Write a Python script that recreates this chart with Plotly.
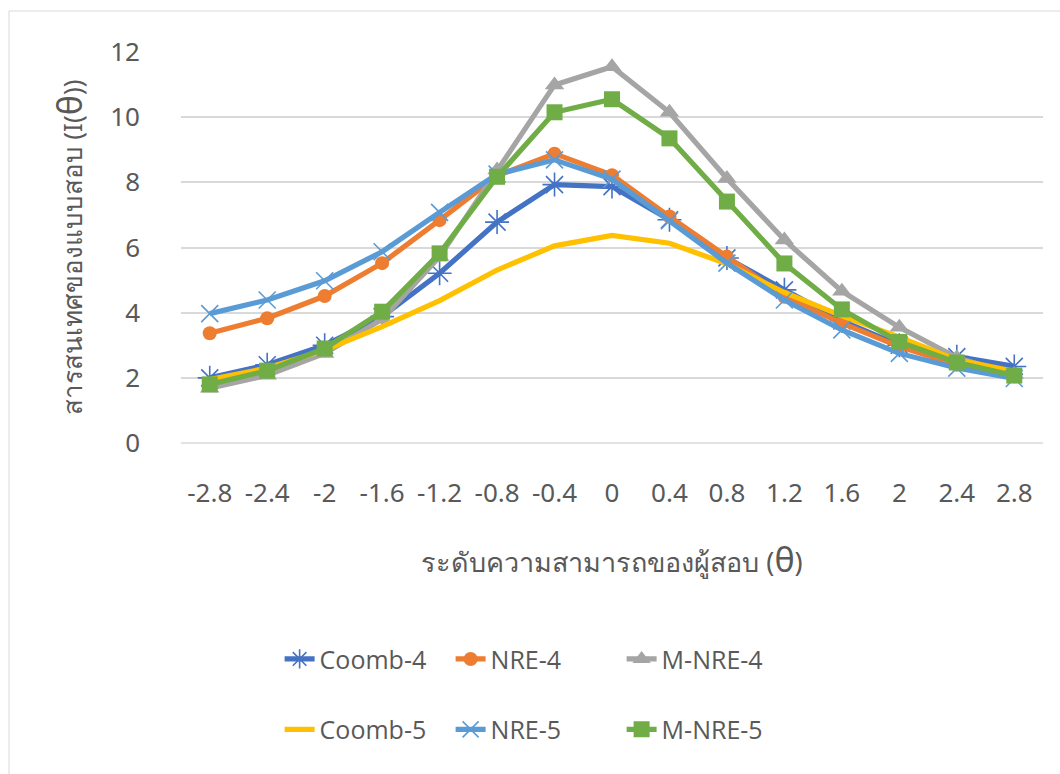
import plotly.graph_objects as go

# Test information functions by ability level
theta = ["-2.8", "-2.4", "-2", "-1.6", "-1.2", "-0.8", "-0.4", "0",
         "0.4", "0.8", "1.2", "1.6", "2", "2.4", "2.8"]

coomb_4 = [2.0, 2.4, 3.0, 3.88, 5.21, 6.78, 7.93, 7.87, 6.85, 5.68, 4.7, 3.75, 3.0, 2.65, 2.35]
nre_4 = [3.37, 3.83, 4.51, 5.52, 6.84, 8.2, 8.88, 8.22, 6.95, 5.72, 4.49, 3.68, 2.96, 2.4, 2.05]
m_nre_4 = [1.68, 2.08, 2.75, 3.8, 5.72, 8.38, 10.99, 11.55, 10.15, 8.12, 6.23, 4.66, 3.55, 2.62, 2.1]
coomb_5 = [1.95, 2.3, 2.85, 3.57, 4.37, 5.31, 6.05, 6.37, 6.13, 5.5, 4.62, 3.9, 3.25, 2.55, 2.2]
nre_5 = [3.97, 4.39, 4.98, 5.87, 7.08, 8.25, 8.69, 8.1, 6.82, 5.52, 4.39, 3.47, 2.75, 2.3, 1.98]
m_nre_5 = [1.8, 2.22, 2.9, 4.03, 5.82, 8.17, 10.15, 10.55, 9.35, 7.41, 5.51, 4.1, 3.1, 2.47, 2.07]

y_ticks = [0, 2, 4, 6, 8, 10, 12]

TEXT = "#595959"
GRID = "#d9d9d9"
FONT = "Liberation Sans Narrow, Noto Sans, sans-serif"
LEG_FONT = "Open Sans, Noto Sans, sans-serif"

series = [
    ("Coomb-4", coomb_4, "#4472C4", dict(symbol="asterisk-open", size=20,
                                         line=dict(width=1.6, color="#4472C4")), "legend"),
    ("NRE-4", nre_4, "#ED7D31", dict(symbol="circle", size=14), "legend"),
    ("M-NRE-4", m_nre_4, "#A5A5A5", dict(symbol="triangle-up", size=17), "legend"),
    ("Coomb-5", coomb_5, "#FFC000", None, "legend2"),
    ("NRE-5", nre_5, "#5B9BD5", dict(symbol="x-thin-open", size=17,
                                     line=dict(width=1.6, color="#5B9BD5")), "legend2"),
    ("M-NRE-5", m_nre_5, "#70AD47", dict(symbol="square", size=16), "legend2"),
]

fig = go.Figure()
for name, vals, color, marker, leg in series:
    kw = {}
    if marker is None:
        kw["mode"] = "lines"
    else:
        m = dict(marker)
        m.setdefault("color", color)
        kw["mode"] = "lines+markers"
        kw["marker"] = m
    fig.add_trace(go.Scatter(
        x=theta, y=vals, name=name, legend=leg,
        line=dict(color=color, width=5.2), **kw))

legend_common = dict(orientation="h", x=0.1144, xanchor="left", yanchor="middle",
                     entrywidth=126, entrywidthmode="pixels",
                     font=dict(family=LEG_FONT, size=25, color=TEXT),
                     bgcolor="rgba(0,0,0,0)", traceorder="normal")

fig.update_layout(
    width=1060, height=774,
    margin=dict(l=181, r=17, t=52, b=331),
    paper_bgcolor="white", plot_bgcolor="white",
    font=dict(family=FONT, color=TEXT),
    showlegend=True,
    legend=dict(legend_common, y=-0.553),
    legend2=dict(legend_common, y=-0.733),
    xaxis=dict(
        type="category", range=[-0.5, 14.5],
        showgrid=False, showline=False, zeroline=False,
        ticks="", ticklabelstandoff=32,
        tickfont=dict(family=FONT, size=26, color=TEXT),
        title=dict(text="ระดับความสามารถของผู้สอบ (<span style='font-size:34px'>θ</span>)",
                   font=dict(family="Noto Sans, sans-serif", size=27, color=TEXT),
                   standoff=44),
    ),
    yaxis=dict(
        range=[0, 12], tickvals=y_ticks,
        showgrid=True, gridcolor=GRID, gridwidth=1.5,
        zeroline=False, showline=False, ticks="",
        ticklabelstandoff=40,
        tickfont=dict(family=FONT, size=26, color=TEXT),
        title=dict(text="สารสนเทศของแบบสอบ (I(<span style='font-size:34px'>θ</span>))",
                   font=dict(family="Noto Sans, sans-serif", size=26, color=TEXT),
                   standoff=20),
    ),
    shapes=[dict(type="line", xref="paper", yref="paper", x0=0, x1=1, y0=0, y1=0,
                 line=dict(color=GRID, width=1.5), layer="below"),
            dict(type="rect", xref="paper", yref="paper",
                 x0=(9 - 181) / 862, x1=1.2, y0=-1.2, y1=(443 - 11) / 391,
                 line=dict(color=GRID, width=1), layer="below")],
)

fig.write_html("out.html")
